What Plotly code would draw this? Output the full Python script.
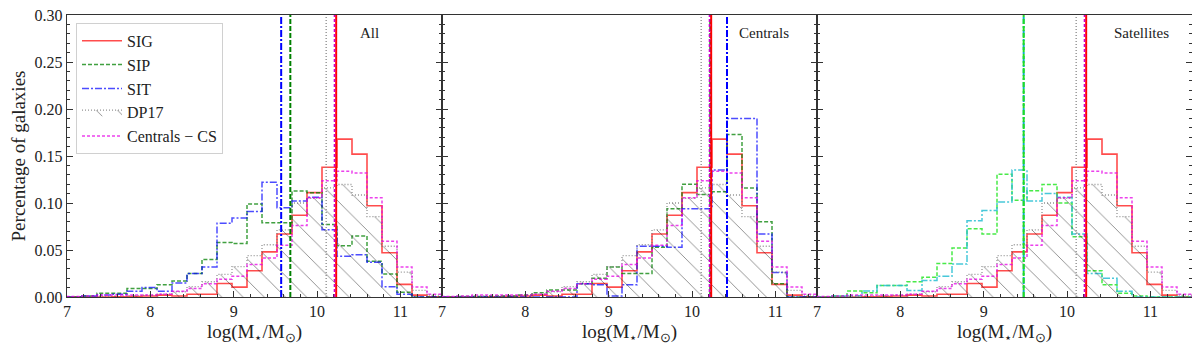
import numpy as np
import plotly.graph_objects as go
from plotly.subplots import make_subplots

# 25 bins of 0.18 dex in log(M*/Msun), starting at 7.0
bin_edges = np.round(7.0 + 0.18 * np.arange(26), 2)

# fractions per bin (same reference samples in every panel)
sig = [0, 0, 0, 0.0003, 0.0005, 0.001, 0.002, 0.001, 0.003, 0.003,
       0.0144, 0.0105, 0.028, 0.048, 0.067, 0.087, 0.111, 0.138, 0.168, 0.152,
       0.097, 0.047, 0.0134, 0.002, 0.0003]
dp17 = [0, 0.0005, 0.001, 0.001, 0.0015, 0.002, 0.003, 0.0056, 0.011, 0.0162,
        0.024, 0.0324, 0.044, 0.0556, 0.0715, 0.100, 0.105, 0.116, 0.1197, 0.1085,
        0.0856, 0.054, 0.0264, 0.007, 0.002]
cent_cs = [0.0005, 0.001, 0.002, 0.002, 0.002, 0.002, 0.003, 0.006, 0.009, 0.014,
           0.019, 0.022, 0.0345, 0.0415, 0.055, 0.076, 0.1056, 0.1236, 0.1338, 0.132,
           0.1056, 0.0592, 0.032, 0.0106, 0.003]

# samples that change per panel
sip_all = [0, 0.001, 0.004, 0.004, 0.009, 0.009, 0.013, 0.017, 0.025, 0.040,
           0.058, 0.057, 0.099, 0.079, 0.079, 0.1127, 0.111, 0.077, 0.0546, 0.065,
           0.038, 0.0246, 0.005, 0, 0]
sit_all = [0, 0.001, 0.002, 0.003, 0.006, 0.010, 0.006, 0.015, 0.025, 0.032,
           0.0785, 0.084, 0.091, 0.122, 0.095, 0.102, 0.106, 0.0715, 0.0433, 0.045,
           0.037, 0.011, 0.003, 0, 0]
sip_cen = [0, 0.0005, 0.0005, 0.001, 0.001, 0.002, 0.0046, 0.0074, 0.0074, 0.014,
           0.020, 0.032, 0.025, 0.025, 0.053, 0.094, 0.120, 0.109, 0.112, 0.173,
           0.116, 0.080, 0.014, 0, 0]
sit_cen = [0, 0, 0, 0, 0, 0, 0, 0, 0, 0.014,
           0.013, 0.001, 0.013, 0.054, 0.054, 0.053, 0.094, 0.094, 0.135, 0.190,
           0.190, 0.067, 0.026, 0, 0]
sip_sat = [0, 0.001, 0.0063, 0.0046, 0.0123, 0.0123, 0.0162, 0.021, 0.0356, 0.052,
           0.0725, 0.0669, 0.1306, 0.103, 0.113, 0.1197, 0.100, 0.064, 0.028, 0.013,
           0.004, 0.001, 0, 0, 0]
sit_sat = [0, 0.001, 0.0012, 0.0063, 0.0123, 0.0123, 0.007, 0.0176, 0.022, 0.035,
           0.081, 0.092, 0.101, 0.135, 0.102, 0.110, 0.106, 0.067, 0.025, 0.020,
           0.006, 0, 0, 0, 0]

# medians (vertical lines)
med_sig = 10.23
med_dp17 = 10.11
med_cs = 10.21
med_sip = [9.68, 10.22, 9.48]
med_sit = [9.57, 10.42, 9.48]

panel_names = ["All", "Centrals", "Satellites"]
name_x = [10.63, 10.86, 10.89]
sip_sets = [sip_all, sip_cen, sip_sat]
sit_sets = [sit_all, sit_cen, sit_sat]
sip_colors = ["rgba(0,128,0,0.75)", "rgba(0,128,0,0.75)", "rgba(40,230,40,0.85)"]
sit_colors = ["rgba(0,0,255,0.7)", "rgba(0,0,255,0.7)", "rgba(40,190,210,0.85)"]
sip_vcol = ["#008000", "#008000", "#22dd22"]
sit_vcol = ["#0000ff", "#0000ff", "#10b0c0"]

RED = "rgba(255,0,0,0.7)"
MAG = "rgba(230,0,230,0.75)"
GRAY = "rgba(120,120,120,0.8)"
FONT = "Liberation Serif"


def step_xy(vals):
    x = [bin_edges[0]] + list(bin_edges[:-1]) + [bin_edges[-1]]
    y = [0] + list(vals) + [0]
    return x, y


fig = make_subplots(rows=1, cols=3, shared_yaxes=True, horizontal_spacing=0)

for c in range(3):
    col = c + 1
    leg = c == 0
    x, y = step_xy(sig)
    fig.add_trace(go.Scatter(x=x, y=y, mode="lines", line_shape="hv", name="SIG",
                             line=dict(color=RED, width=1.6), showlegend=leg), 1, col)
    x, y = step_xy(sip_sets[c])
    fig.add_trace(go.Scatter(x=x, y=y, mode="lines", line_shape="hv", name="SIP",
                             line=dict(color=sip_colors[c], width=1.5, dash="4px,2px"),
                             showlegend=leg), 1, col)
    x, y = step_xy(sit_sets[c])
    fig.add_trace(go.Scatter(x=x, y=y, mode="lines", line_shape="hv", name="SIT",
                             line=dict(color=sit_colors[c], width=1.5, dash="7px,2px,2px,2px"),
                             showlegend=leg), 1, col)
    x, y = step_xy(dp17)
    fig.add_trace(go.Scatter(x=x, y=y, mode="lines", line_shape="hv", name="DP17",
                             line=dict(color=GRAY, width=1.3, dash="1px,2px"),
                             fill="tozeroy", fillcolor="rgba(0,0,0,0)",
                             fillpattern=dict(shape="\\", size=15, solidity=0.06,
                                              fgcolor="#111111", bgcolor="rgba(0,0,0,0)"),
                             showlegend=leg), 1, col)
    x, y = step_xy(cent_cs)
    fig.add_trace(go.Scatter(x=x, y=y, mode="lines", line_shape="hv", name="Centrals − CS",
                             line=dict(color=MAG, width=1.5, dash="3px,2px"),
                             showlegend=leg), 1, col)

    # medians
    fig.add_vline(x=med_sit[c], row=1, col=col,
                  line=dict(color=sit_vcol[c], width=2, dash="7px,2px,2px,2px"))
    fig.add_vline(x=med_sip[c], row=1, col=col,
                  line=dict(color=sip_vcol[c], width=2, dash="5px,2px"))
    fig.add_vline(x=med_dp17, row=1, col=col,
                  line=dict(color="#888888", width=1.3, dash="1px,2px"))
    fig.add_vline(x=med_sig, row=1, col=col, line=dict(color="#ff0000", width=2))
    fig.add_vline(x=med_cs, row=1, col=col,
                  line=dict(color="#cc00cc", width=1.6, dash="3px,2px"))

    fig.update_xaxes(range=[7, 11.5], dtick=1, tick0=7, ticks="inside", ticklen=6,
                     tickcolor="#333", showline=True, linecolor="#333", linewidth=1.4,
                     mirror=True, showgrid=False, zeroline=False, automargin=False,
                     ticklabeloverflow="allow",
                     minor=dict(ticks="inside", dtick=0.2, ticklen=3, tickcolor="#333"),
                     tickfont=dict(family=FONT, size=16, color="#222"),
                     title=dict(text="log(M<sub>⋆</sub>/M<sub>⊙</sub>)", standoff=6,
                                font=dict(family=FONT, size=19, color="#222")),
                     row=1, col=col)

    fig.add_annotation(x=name_x[c], y=0.281, text=panel_names[c], showarrow=False,
                       xref=f"x{'' if c == 0 else c + 1}", yref="y",
                       font=dict(family=FONT, size=15, color="#222"))

fig.update_yaxes(range=[0, 0.30], dtick=0.05, tickformat=".2f", ticks="inside", ticklen=6,
                 tickcolor="#333", showline=True, linecolor="#333", linewidth=1.4,
                 mirror="allticks", showgrid=False, zeroline=False, automargin=False,
                 ticklabeloverflow="allow",
                 minor=dict(ticks="inside", dtick=0.01, ticklen=3, tickcolor="#333"),
                 tickfont=dict(family=FONT, size=16, color="#222"))
fig.update_yaxes(title=dict(text="Percentage of galaxies", standoff=4,
                            font=dict(family=FONT, size=19, color="#222")), row=1, col=1)

# page body keeps an 8px margin, so the figure is sized to fit inside the window
fig.update_layout(
    width=1184, height=337,
    margin=dict(l=59, r=0, t=7, b=48, autoexpand=False),
    paper_bgcolor="white", plot_bgcolor="white",
    font=dict(family=FONT, color="#222"),
    legend=dict(x=0.008, y=0.972, xanchor="left", yanchor="top",
                bgcolor="rgba(255,255,255,0.85)", bordercolor="#d0d0d0", borderwidth=1,
                font=dict(family=FONT, size=16), tracegroupgap=0, itemwidth=40),
)

fig.write_html("out.html")
